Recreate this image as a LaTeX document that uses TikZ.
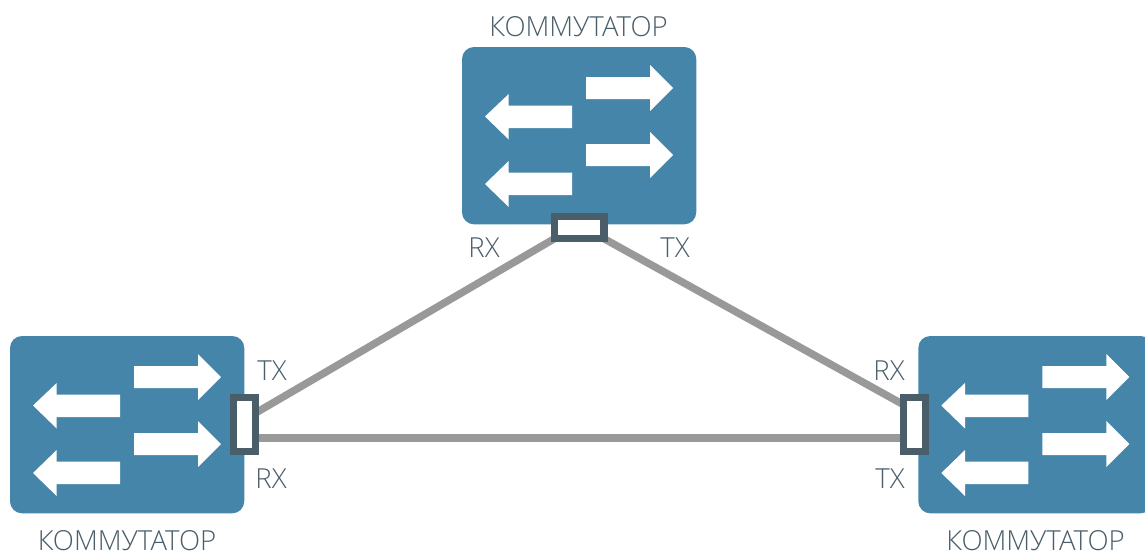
\documentclass[tikz,border=0pt]{standalone}
\usepackage{fontspec}
\setmainfont{Open Sans Light}
\usetikzlibrary{backgrounds}
\definecolor{swblue}{HTML}{4585AA}
\definecolor{portgrey}{HTML}{4A5E6A}
\definecolor{linkgrey}{HTML}{999999}
\definecolor{txtgrey}{HTML}{4A5E6A}
\tikzset{
  x=0.75pt,y=-0.75pt,
  switchbox/.style={fill=swblue,rounded corners=9pt,minimum width=175.7pt,minimum height=133pt,inner sep=0pt,outer sep=0pt,anchor=north west},
  porth/.style={draw=portgrey,fill=white,line width=5.55pt,minimum width=37.1pt,minimum height=16.7pt,inner sep=0pt,outer sep=0pt},
  portv/.style={draw=portgrey,fill=white,line width=5.55pt,minimum width=16.5pt,minimum height=40.1pt,inner sep=0pt,outer sep=0pt},
  link/.style={draw=linkgrey,line width=5.6pt},
  lab/.style={text=txtgrey,font=\fontsize{20.7}{22}\selectfont,inner sep=0pt,anchor=base},
  rarrow/.style={fill=white},
  swarrows/.pic={
    \fill[rarrow] (124,30) -- (188,30) -- (188,18) -- (211,41) -- (188,64) -- (188,52) -- (124,52) -- cycle;
    \fill[rarrow] (124,97) -- (188,97) -- (188,85) -- (211,108) -- (188,131) -- (188,119) -- (124,119) -- cycle;
    \fill[rarrow] (110,58.5) -- (46.7,58.5) -- (46.7,47) -- (23,69.5) -- (46.7,92.5) -- (46.7,81) -- (110,81) -- cycle;
    \fill[rarrow] (110,125.5) -- (46.7,125.5) -- (46.7,114) -- (23,137) -- (46.7,160) -- (46.7,148) -- (110,148) -- cycle;
  }
}
\begin{document}
\begin{tikzpicture}
\useasboundingbox (0,0) rectangle (1145,553);
\clip (0,0) rectangle (1145,553);
\node[switchbox] (swT) at (462,47) {};
\node[switchbox] (swL) at (10,336) {};
\node[switchbox] (swR) at (918.3,336) {};
\pic at (swT.north west) {swarrows};
\pic at (swL.north west) {swarrows};
\pic at (swR.north west) {swarrows};
\node[porth] (portT) at (579.2,227.5) {};
\node[portv] (portL) at (244.5,424.5) {};
\node[portv] (portR) at (914.2,424.5) {};
\begin{pgfonlayer}{background}
\draw[link] (portT.south west) -- ([yshift=8.6pt]portL.east);
\draw[link] (portT.south east) -- ([yshift=15pt]portR.west);
\draw[link] ([yshift=-10pt]portL.east) -- ([yshift=-10pt]portR.west);
\end{pgfonlayer}
\node[lab] (labT) at (578.5,36.6) {КОММУТАТОР};
\node[lab] (labL) at (127,550.7) {КОММУТАТОР};
\node[lab] (labR) at (1035.5,550.7) {КОММУТАТОР};
\node[lab] (rx1) at (484,257.6) {RX};
\node[lab] (tx1) at (675,257.6) {TX};
\node[lab] (tx2) at (272,380) {TX};
\node[lab] (rx2) at (271,488.6) {RX};
\node[lab] (rx3) at (889,380) {RX};
\node[lab] (tx3) at (890,488.6) {TX};
\end{tikzpicture}
\end{document}
